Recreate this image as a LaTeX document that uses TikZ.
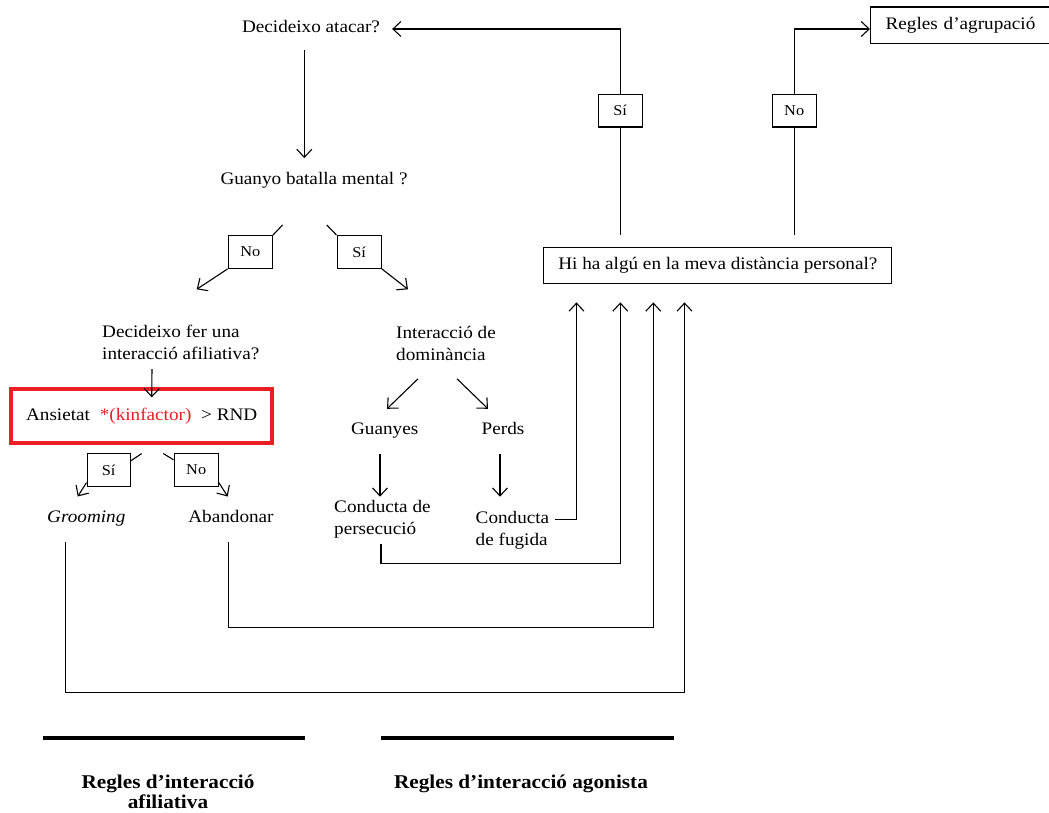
\documentclass[tikz,border=0pt]{standalone}
\usepackage{fontspec}
\setmainfont{Liberation Serif}[FakeStretch=1.09]
\usetikzlibrary{arrows.meta}
\definecolor{alarm}{RGB}{236,30,36}
\begin{document}
\begin{tikzpicture}[x=1pt,y=-1pt,
  txt/.style={font=\fontsize{17.6}{22}\selectfont, inner sep=0pt, text height=12pt, text depth=4pt, anchor=base},
  para/.style={font=\fontsize{17.6}{22}\selectfont, inner sep=0pt, align=left, anchor=north west},
  tag/.style={draw, line width=1.3pt, minimum width=44pt, minimum height=32.5pt, inner sep=0pt,
              font=\fontsize{15}{17}\selectfont},
  frame/.style={draw, line width=1.3pt, inner sep=0pt, font=\fontsize{17.6}{22}\selectfont},
  link/.style={line width=1.1pt, -{Straight Barb[length=8pt,width=15pt]}},
  wire/.style={line width=1.1pt},
  rule/.style={line width=4pt},
  heading/.style={font=\bfseries\fontsize{19.5}{22}\selectfont, inner sep=0pt, text height=14pt, text depth=2pt, anchor=base}
]
\useasboundingbox (0,0) rectangle (1049,813);

% ---- decision texts and outcomes
\node[txt] (atk) at (311,33) {Decideixo atacar?};
\node[txt] (bat) at (314,185) {Guanyo batalla mental ?};
\node[para] (aff) at (102,325) {Decideixo fer una\\interacció afiliativa?};
\node[para] (dom) at (396,326) {Interacció de\\dominància};
\node[txt] (guan) at (384.7,434) {Guanyes};
\node[txt] (perds) at (503,434) {Perds};
\node[para] (pers) at (334,500) {Conducta de\\persecució};
\node[para] (fug) at (475.5,511) {Conducta\\de fugida};
\node[txt, font=\itshape\fontsize{17.6}{22}\selectfont] (groom) at (86.3,522) {Grooming};
\node[txt] (aband) at (231,522.5) {Abandonar};

% ---- framed boxes
\node[frame, minimum width=348pt, minimum height=36.5pt] (hi) at (717.8,265.5)
  {Hi ha algú en la meva distància personal?};
\node[frame, anchor=west, minimum height=36.5pt, inner xsep=15pt, text width=180pt, align=left] (agr) at (870,25.3)
  {Regles d’agrupació};
\node[draw=alarm, line width=4pt, minimum width=260.7pt, minimum height=53.7pt, inner sep=0pt,
      font=\fontsize{17.6}{22}\selectfont] (ans) at (141.7,416.2)
  {Ansietat\hspace{5pt} \textcolor{alarm}{*(kinfactor)}\hspace{5pt} > RND};

% ---- yes / no tags
\node[tag] (siT) at (620.2,110.7) {Sí};
\node[tag] (noT) at (794.2,110.7) {No};
\node[tag] (noA) at (250.3,252) {No};
\node[tag] (siA) at (359.2,252) {Sí};
\node[tag, minimum width=43pt] (siB) at (108.7,470) {Sí};
\node[tag] (noB) at (196.2,470) {No};

% ---- group headings
\node[heading] (hAff) at (168,788) {Regles d’interacció};
\node[heading] (hAff2) at (168,808.5) {afiliativa};
\node[heading] (hAgo) at (521,788) {Regles d’interacció agonista};
\draw[rule] (43.3,737.5) -- (305,737.5);
\draw[rule] (381,737.5) -- (674,737.5);

% ---- connectors: personal distance check
\draw[wire] ([yshift=12pt]hi.north -| siT) -- (siT.south);
\draw[link] (siT.north) |- ([xshift=12pt]atk.east);
\draw[wire] ([yshift=12pt]hi.north -| noT) -- (noT.south);
\draw[link] (noT.north) |- ([yshift=-3.7pt]agr.west);

% ---- connectors: attack decision
\draw[link] ([xshift=-6.7pt,yshift=-13pt]atk.south) -- ([xshift=-9.7pt,yshift=14.7pt]bat.north);
\draw[wire] ([xshift=-31.3pt,yshift=-35.7pt]bat.south) -- (noA.north east);
\draw[link] (noA.south west) -- ([xshift=94.7pt,yshift=35.7pt]aff.north west);
\draw[wire] ([xshift=12.7pt,yshift=-35.7pt]bat.south) -- (siA.north west);
\draw[link] (siA.south east) -- ([xshift=12pt,yshift=36.7pt]dom.north west);

% ---- connectors: affiliative branch
\draw[link] ([xshift=50pt,yshift=-9pt]aff.south west) -- ([xshift=10pt,yshift=-10pt]ans.north);
\draw[wire] ([yshift=-8.5pt]ans.south) -- ([yshift=-7.7pt]siB.north east);
\draw[link] ([yshift=4.3pt]siB.south west) -- ([xshift=-8.6pt,yshift=13.3pt]groom.north);
\draw[wire] ([xshift=21.6pt,yshift=-8.5pt]ans.south) -- ([yshift=-6.7pt]noB.north west);
\draw[link] ([yshift=4.3pt]noB.south east) -- ([xshift=-3.3pt,yshift=13.8pt]aband.north);

% ---- connectors: dominance branch
\draw[link] ([xshift=22pt,yshift=-18pt]dom.south west) -- ([xshift=2.3pt,yshift=13pt]guan.north);
\draw[link] ([xshift=61pt,yshift=-18pt]dom.south west) -- ([xshift=-15pt,yshift=13pt]perds.north);
\draw[link] ([xshift=-4.7pt,yshift=-16pt]guan.south) -- ([xshift=46pt,yshift=3.3pt]pers.north west);
\draw[link] ([xshift=-3pt,yshift=-16pt]perds.south) -- ([xshift=24.5pt,yshift=14.3pt]fug.north west);

% ---- feedback loops back to the distance check
\draw[link] ([xshift=79.5pt,yshift=-8.3pt]fug.north west) -| ([xshift=-141.3pt,yshift=-18pt]hi.south);
\draw[link] ([xshift=47pt,yshift=-6pt]pers.south west) -- ++(0,19.5) -| ([xshift=-97.5pt,yshift=-18pt]hi.south);
\draw[link] ([xshift=-2.7pt,yshift=-15.2pt]aband.south) -- ++(0,86) -| ([xshift=-64.5pt,yshift=-18pt]hi.south);
\draw[link] ([xshift=-20.6pt,yshift=-15.7pt]groom.south) -- ++(0,150.3) -| ([xshift=-33.3pt,yshift=-18pt]hi.south);
\end{tikzpicture}
\end{document}
